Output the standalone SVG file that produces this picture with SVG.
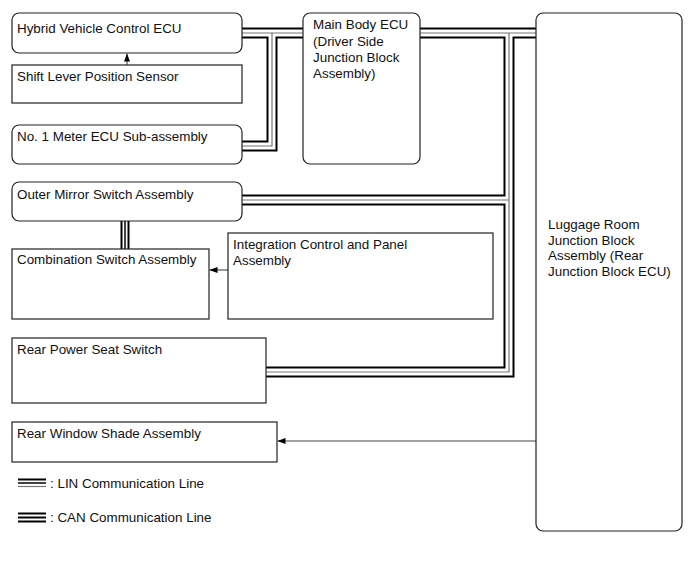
<svg xmlns="http://www.w3.org/2000/svg" xmlns:xlink="http://www.w3.org/1999/xlink" width="690" height="561" viewBox="0 0 690 561">
<style>
  .box { fill: #fff; stroke: #222; stroke-width: 1.2; }
  .t { font-family: "Liberation Sans", Arial, sans-serif; font-size: 13.4px; fill: #111; }
  .bk { fill: none; stroke: #000; stroke-width: 11; stroke-linejoin: miter; }
  .wh { fill: none; stroke: #fff; stroke-width: 7; stroke-linejoin: miter; }
  .cn { fill: none; stroke: #777; stroke-width: 1.2; stroke-linejoin: miter; }
  .arr { fill: none; stroke: #444; stroke-width: 1.1; marker-end: url(#ah); }
</style>
<defs>
  <marker id="ah" viewBox="0 0 8 6" refX="8" refY="3" markerWidth="8" markerHeight="6" markerUnits="userSpaceOnUse" orient="auto">
    <path d="M0,0 L8,3 L0,6 Z" fill="#000"/>
  </marker>
  <path id="bA" d="M242,33 H303"/>
  <path id="bB" d="M272,33 V146 H242"/>
  <path id="bC" d="M420,33 H536"/>
  <path id="bD" d="M509,33 V372 H266"/>
  <path id="bE" d="M242,200 H509"/>
  <path id="bF" d="M125,221 V249"/>
</defs>

<rect width="690" height="561" fill="#fff"/>

<g id="connectors">
  <use xlink:href="#bA" class="bk"/>
  <use xlink:href="#bB" class="bk"/>
  <use xlink:href="#bC" class="bk"/>
  <use xlink:href="#bD" class="bk"/>
  <use xlink:href="#bE" class="bk"/>
  <use xlink:href="#bF" class="bk" style="stroke-width:9"/>
  <use xlink:href="#bA" class="wh"/>
  <use xlink:href="#bB" class="wh"/>
  <use xlink:href="#bC" class="wh"/>
  <use xlink:href="#bD" class="wh"/>
  <use xlink:href="#bE" class="wh"/>
  <use xlink:href="#bF" class="wh" style="stroke-width:5"/>
  <use xlink:href="#bA" class="cn"/>
  <use xlink:href="#bB" class="cn"/>
  <use xlink:href="#bC" class="cn"/>
  <use xlink:href="#bD" class="cn"/>
  <use xlink:href="#bE" class="cn"/>
  <use xlink:href="#bF" class="cn" style="stroke:#000;stroke-width:1.5"/>
  <path class="arr" d="M127,65 V53.5"/>
  <path class="arr" d="M228,270 H209.5"/>
  <path class="arr" d="M536,441 H277.5"/>
</g>

<g id="hybrid">
  <rect class="box" x="12" y="13" width="230" height="40" rx="7"/>
  <text class="t" x="17" y="33">Hybrid Vehicle Control ECU</text>
</g>
<g id="shift">
  <rect class="box" x="12" y="65" width="230" height="38"/>
  <text class="t" x="17" y="81">Shift Lever Position Sensor</text>
</g>
<g id="meter">
  <rect class="box" x="12" y="125" width="230" height="39" rx="7"/>
  <text class="t" x="17" y="141">No. 1 Meter ECU Sub-assembly</text>
</g>
<g id="mainbody">
  <rect class="box" x="303" y="13" width="117" height="151" rx="7"/>
  <text class="t" x="313" y="29">Main Body ECU</text>
  <text class="t" x="313" y="45.5">(Driver Side</text>
  <text class="t" x="313" y="62">Junction Block</text>
  <text class="t" x="313" y="78">Assembly)</text>
</g>
<g id="luggage">
  <rect class="box" x="536" y="13" width="146" height="518" rx="7"/>
  <text class="t" x="548" y="229">Luggage Room</text>
  <text class="t" x="548" y="244.5">Junction Block</text>
  <text class="t" x="548" y="260">Assembly (Rear</text>
  <text class="t" x="548" y="275.5">Junction Block ECU)</text>
</g>
<g id="mirror">
  <rect class="box" x="12" y="182" width="230" height="39" rx="7"/>
  <text class="t" x="17" y="199">Outer Mirror Switch Assembly</text>
</g>
<g id="combination">
  <rect class="box" x="12" y="249" width="197" height="70"/>
  <text class="t" x="17" y="264">Combination Switch Assembly</text>
</g>
<g id="integration">
  <rect class="box" x="228" y="233" width="265" height="86"/>
  <text class="t" x="233" y="249">Integration Control and Panel</text>
  <text class="t" x="233" y="265">Assembly</text>
</g>
<g id="rearseat">
  <rect class="box" x="12" y="338" width="254" height="65"/>
  <text class="t" x="17" y="354">Rear Power Seat Switch</text>
</g>
<g id="rearshade">
  <rect class="box" x="12" y="422" width="265" height="40"/>
  <text class="t" x="17" y="438">Rear Window Shade Assembly</text>
</g>

<g id="legend">
  <line x1="18" y1="479.5" x2="46" y2="479.5" stroke="#000" stroke-width="2"/>
  <line x1="18" y1="483" x2="46" y2="483" stroke="#000" stroke-width="1.5"/>
  <line x1="18" y1="486.5" x2="46" y2="486.5" stroke="#777" stroke-width="1.2"/>
  <text class="t" x="50" y="488">: LIN Communication Line</text>
  <line x1="18" y1="513.5" x2="46" y2="513.5" stroke="#000" stroke-width="2"/>
  <line x1="18" y1="517.5" x2="46" y2="517.5" stroke="#000" stroke-width="2"/>
  <line x1="18" y1="521.5" x2="46" y2="521.5" stroke="#000" stroke-width="2"/>
  <text class="t" x="50" y="522">: CAN Communication Line</text>
</g>
</svg>
